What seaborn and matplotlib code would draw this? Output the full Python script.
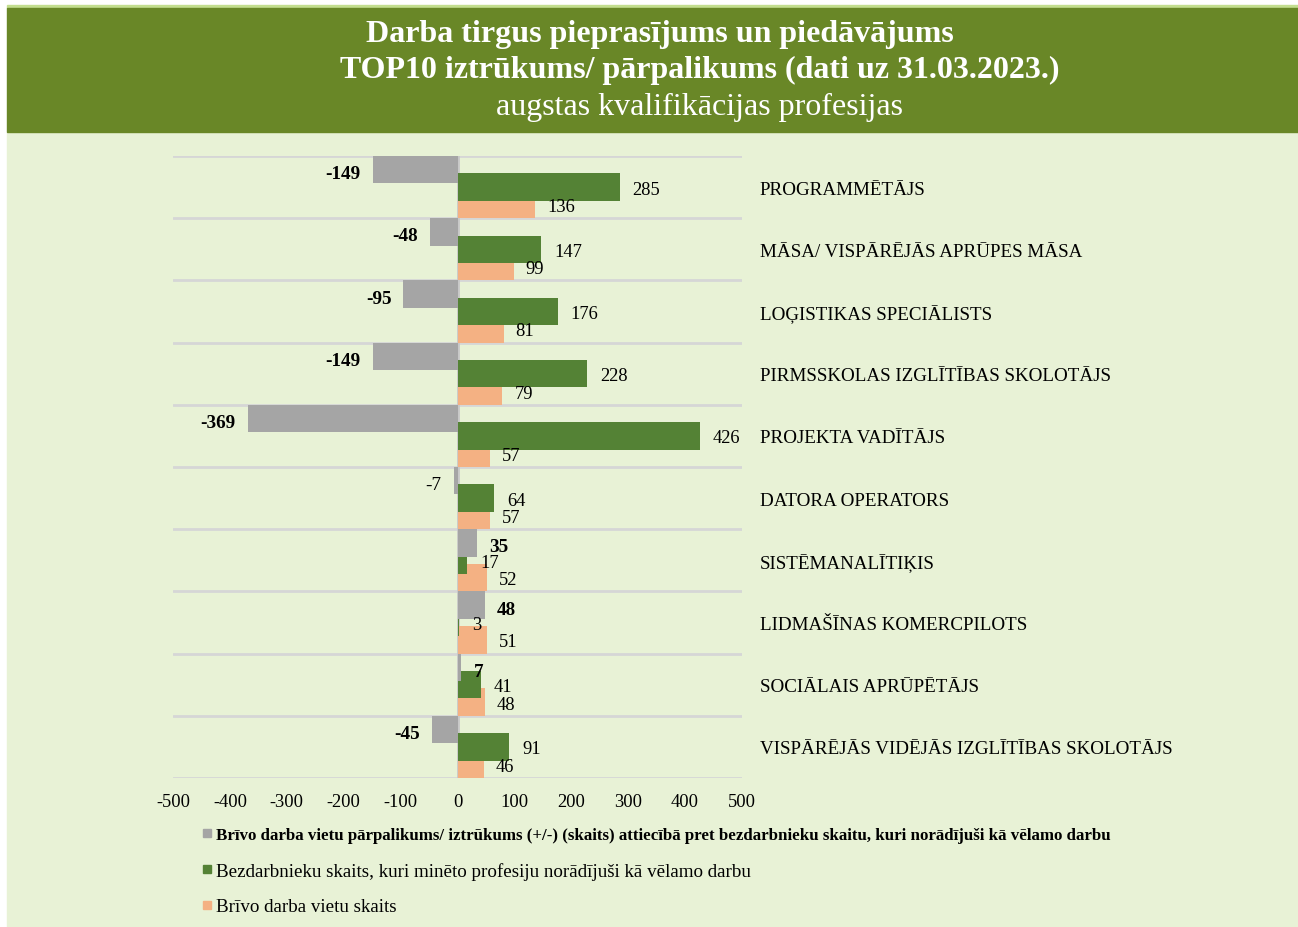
import matplotlib
matplotlib.use('Agg')

import matplotlib.pyplot as plt
import seaborn as sns
import numpy as np
from matplotlib.patches import Rectangle

sns.set_theme(style='white')
plt.rcParams['font.family'] = ['Liberation Serif', 'DejaVu Serif']
plt.rcParams['axes.unicode_minus'] = False
plt.rcParams['text.color'] = 'black'
plt.rcParams['xtick.color'] = 'black'

# Dati
profesijas = [
    'PROGRAMMĒTĀJS',
    'MĀSA/ VISPĀRĒJĀS APRŪPES MĀSA',
    'LOĢISTIKAS SPECIĀLISTS',
    'PIRMSSKOLAS IZGLĪTĪBAS SKOLOTĀJS',
    'PROJEKTA VADĪTĀJS',
    'DATORA OPERATORS',
    'SISTĒMANALĪTIĶIS',
    'LIDMAŠĪNAS KOMERCPILOTS',
    'SOCIĀLAIS APRŪPĒTĀJS',
    'VISPĀRĒJĀS VIDĒJĀS IZGLĪTĪBAS SKOLOTĀJS',
]
parpalikums = [-149, -48, -95, -149, -369, -7, 35, 48, 7, -45]
bezdarbnieki = [285, 147, 176, 228, 426, 64, 17, 3, 41, 91]
vakances = [136, 99, 81, 79, 57, 57, 52, 51, 48, 46]
xticks = [-500, -400, -300, -200, -100, 0, 100, 200, 300, 400, 500]

legend_labels = [
    'Brīvo darba vietu pārpalikums/ iztrūkums (+/-) (skaits) attiecībā pret bezdarbnieku skaitu, kuri norādījuši kā vēlamo darbu',
    'Bezdarbnieku skaits, kuri minēto profesiju norādījuši kā vēlamo darbu',
    'Brīvo darba vietu skaits',
]

GRAY = '#A5A5A5'
GREEN = '#548235'
ORANGE = '#F4B183'
BG = '#E8F2D6'
BANNER = '#698727'

W, H = 1298, 928
fig = plt.figure(figsize=(W / 100, H / 100), dpi=100)
fig.patch.set_facecolor('white')
fig.patches.append(Rectangle((7 / W, 0), 1, 1 - 133 / H, transform=fig.transFigure,
                             color=BG, zorder=-10))
fig.patches.append(Rectangle((7 / W, 1 - 9 / H), 1, 3 / H, transform=fig.transFigure,
                             color='#C3DE8F', zorder=-10))
fig.patches.append(Rectangle((7 / W, 1 - 133 / H), 1, 124 / H, transform=fig.transFigure,
                             color=BANNER, zorder=-10))

fig.text(660 / W, 1 - 31 / H, 'Darba tirgus pieprasījums un piedāvājums', ha='center',
         va='center_baseline', color='white', fontsize=23, fontweight='bold')
fig.text(700 / W, 1 - 67 / H, 'TOP10 iztrūkums/ pārpalikums (dati uz 31.03.2023.)', ha='center',
         va='center_baseline', color='white', fontsize=23, fontweight='bold')
fig.text(700 / W, 1 - 104 / H, 'augstas kvalifikācijas profesijas', ha='center',
         va='center_baseline', color='white', fontsize=23)

ax = fig.add_axes([173 / W, 1 - 779 / H, 569 / W, 622 / H])
ax.set_facecolor('none')

rows = np.arange(len(profesijas))
series = [
    (vakances, 0.78, ORANGE, 1),
    (bezdarbnieki, 0.50, GREEN, 2),
    (parpalikums, 0.22, GRAY, 3),
]
for vals, off, col, z in series:
    sns.barplot(x=vals, y=rows + off, orient='h', native_scale=True, width=0.44,
                color=col, saturation=1, errorbar=None, linewidth=0, zorder=z, ax=ax)

for b in range(len(profesijas) + 1):
    ax.axhline(b, color='#D6D6D6', lw=2, zorder=0)
ax.axvline(0, color='#C8C8C8', lw=2, zorder=0.5)

ax.set_xlim(-500, 500)
ax.set_ylim(len(profesijas), 0)
ax.set_xticks(xticks)
ax.set_xticklabels([str(t) for t in xticks])
ax.set_yticks([])
ax.set_xlabel('')
ax.set_ylabel('')
ax.tick_params(axis='x', length=0, pad=11, labelsize=13.3)
for s in ax.spines.values():
    s.set_visible(False)

# Vērtību etiķetes
for i in rows:
    v = parpalikums[i]
    ax.annotate(str(v), (v, i + 0.22), xytext=(-12 if v < 0 else 12, -2),
                textcoords='offset pixels', ha='right' if v < 0 else 'left',
                va='center_baseline', fontsize=13.8,
                fontweight='normal' if v == -7 else 'bold')
    ax.annotate(str(bezdarbnieki[i]), (bezdarbnieki[i], i + 0.5), xytext=(13, 0),
                textcoords='offset pixels', ha='left', va='center_baseline', fontsize=13.3)
    ax.annotate(str(vakances[i]), (vakances[i], i + 0.78), xytext=(12, 0),
                textcoords='offset pixels', ha='left', va='center_baseline', fontsize=13.3)
    ax.text(531, i + 0.5, profesijas[i], ha='left', va='center_baseline', fontsize=13.7,
            clip_on=False)

# Leģenda
for k, (lab, col) in enumerate(zip(legend_labels, (GRAY, GREEN, ORANGE))):
    y = 834 + 36 * k
    fig.patches.append(Rectangle((203 / W, 1 - (y + 4) / H), 8 / W, 8 / H,
                                 transform=fig.transFigure, color=col))
    fig.text(216 / W, 1 - y / H, lab, ha='left', va='center_baseline',
             fontsize=12.2 if k == 0 else 13.7, fontweight='bold' if k == 0 else 'normal')

fig.savefig('out.png', dpi=100, facecolor=fig.get_facecolor())
